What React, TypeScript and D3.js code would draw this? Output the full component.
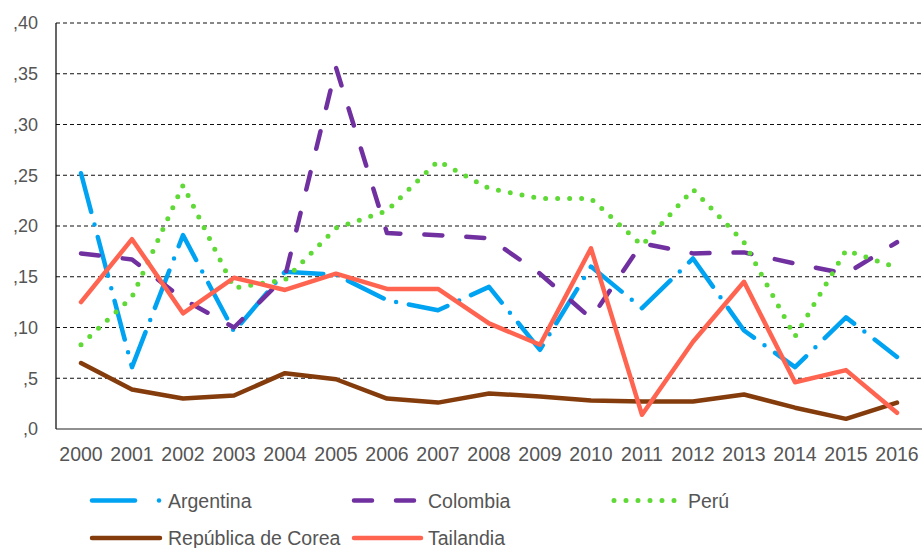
import React, { useEffect, useRef } from 'react';
import * as d3 from 'd3';

const years = ['2000','2001','2002','2003','2004','2005','2006','2007','2008','2009','2010','2011','2012','2013','2014','2015','2016'];
const yTicks = [0, 0.05, 0.1, 0.15, 0.2, 0.25, 0.3, 0.35, 0.4];

const argentina = [0.252, 0.061, 0.191, 0.096, 0.155, 0.152, 0.127, 0.117, 0.140, 0.078, 0.160, 0.119, 0.168, 0.097, 0.061, 0.110, 0.071];
const colombia = [0.173, 0.167, 0.128, 0.100, 0.150, 0.356, 0.193, 0.191, 0.188, 0.153, 0.109, 0.183, 0.173, 0.174, 0.163, 0.153, 0.184];
const peru = [0.083, 0.130, 0.240, 0.139, 0.147, 0.198, 0.215, 0.264, 0.237, 0.227, 0.227, 0.181, 0.236, 0.184, 0.091, 0.176, 0.159];
const corea = [0.065, 0.039, 0.030, 0.033, 0.055, 0.049, 0.030, 0.026, 0.035, 0.032, 0.028, 0.027, 0.027, 0.034, 0.021, 0.010, 0.026];
const tailandia = [0.125, 0.187, 0.114, 0.149, 0.137, 0.153, 0.138, 0.138, 0.104, 0.083, 0.178, 0.014, 0.086, 0.145, 0.046, 0.058, 0.016];

const series = [
  { name: 'Argentina', values: argentina, color: '#00A3F2', width: 4.5, dash: '40 13 0 13' },
  { name: 'Colombia', values: colombia, color: '#7030A0', width: 4.5, dash: '18 24' },
  { name: 'Perú', values: peru, color: '#5FD936', width: 5, dash: '0 12' },
  { name: 'República de Corea', values: corea, color: '#843C0C', width: 4.5, dash: null },
  { name: 'Tailandia', values: tailandia, color: '#FF6450', width: 4.5, dash: null },
];

const W = 922, H = 548;
const FONT = '"Liberation Sans", Arial, sans-serif';
const TXT = '#555555';

const App = () => {
  const ref = useRef<SVGSVGElement | null>(null);

  useEffect(() => {
    const svg = d3.select(ref.current);
    svg.selectAll('*').remove();

    const left = 56, top = 23, bottom = 429;
    const x = d3.scalePoint().domain(years).range([55.5, 922.5]).padding(0.5);
    const y = d3.scaleLinear().domain([0, 0.4]).range([bottom, top]);

    // grid lines
    svg.append('g').selectAll('line')
      .data(yTicks.filter(t => t > 0))
      .join('line')
      .attr('x1', left).attr('x2', W)
      .attr('y1', d => y(d)).attr('y2', d => y(d))
      .attr('stroke', '#111').attr('stroke-width', 1.2)
      .attr('stroke-dasharray', '4 3');

    // axes
    svg.append('line').attr('x1', left).attr('x2', left).attr('y1', top).attr('y2', bottom)
      .attr('stroke', '#000').attr('stroke-width', 1.2);
    svg.append('line').attr('x1', left).attr('x2', W).attr('y1', bottom).attr('y2', bottom)
      .attr('stroke', '#222').attr('stroke-width', 1.2);

    // y labels
    svg.append('g').selectAll('text')
      .data(yTicks)
      .join('text')
      .attr('x', 38).attr('y', d => y(d))
      .attr('dy', '0.35em')
      .attr('text-anchor', 'end')
      .attr('font-family', FONT).attr('font-size', 18).attr('fill', TXT)
      .text(d => ',' + Math.round(d * 100));

    // x labels
    svg.append('g').selectAll('text')
      .data(years)
      .join('text')
      .attr('x', d => x(d)!).attr('y', 461)
      .attr('text-anchor', 'middle')
      .attr('font-family', FONT).attr('font-size', 19.5).attr('fill', TXT)
      .text(d => d);

    const line = d3.line<number>()
      .x((_, i) => x(years[i])!)
      .y(d => y(d));

    series.forEach(s => {
      svg.append('path')
        .attr('d', line(s.values)!)
        .attr('fill', 'none')
        .attr('stroke', s.color)
        .attr('stroke-width', s.width)
        .attr('stroke-linecap', 'round')
        .attr('stroke-linejoin', 'round')
        .attr('stroke-dasharray', s.dash);
    });

    // legend
    const legendPos = [
      { sx: 92, ex: 135, tx: 168, ly: 500.5, ty: 508 },
      { sx: 354, ex: 414, tx: 428, ly: 500.5, ty: 508 },
      { sx: 614, ex: 678, tx: 688, ly: 500.5, ty: 508 },
      { sx: 92, ex: 160, tx: 168, ly: 538, ty: 545 },
      { sx: 354, ex: 421, tx: 428, ly: 538, ty: 545 },
    ];
    const lg = svg.append('g');
    series.forEach((s, i) => {
      const p = legendPos[i];
      if (s.name === 'Argentina') {
        lg.append('line').attr('x1', p.sx).attr('x2', p.ex).attr('y1', p.ly).attr('y2', p.ly)
          .attr('stroke', s.color).attr('stroke-width', s.width).attr('stroke-linecap', 'round');
        lg.append('circle').attr('cx', 159).attr('cy', p.ly).attr('r', s.width / 2).attr('fill', s.color);
      } else {
        lg.append('line').attr('x1', p.sx).attr('x2', p.ex).attr('y1', p.ly).attr('y2', p.ly)
          .attr('stroke', s.color).attr('stroke-width', s.width).attr('stroke-linecap', 'round')
          .attr('stroke-dasharray', s.dash);
      }
      lg.append('text').attr('x', p.tx).attr('y', p.ty)
        .attr('font-family', FONT).attr('font-size', 19.5).attr('fill', TXT)
        .text(s.name);
    });
  }, []);

  return (
    <svg ref={ref} width={W} height={H}
      style={{ position: 'absolute', left: 0, top: 0, background: '#fff' }} />
  );
};

export default App;
